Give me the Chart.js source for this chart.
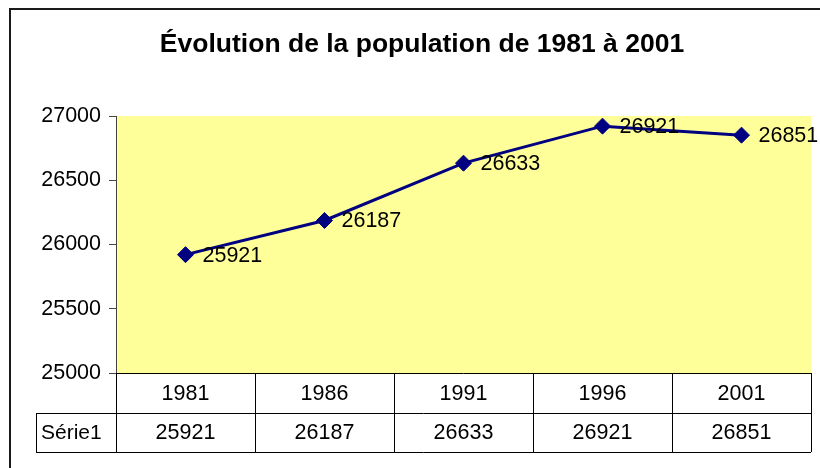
<!DOCTYPE html>
<html><head><meta charset="utf-8">
<script src="https://cdn.jsdelivr.net/npm/chart.js@4/dist/chart.umd.min.js"></script>
<style>html,body{margin:0;padding:0;background:#fff;} #wrap{width:820px;height:468px;position:relative;}</style>
</head><body><div id="wrap"><canvas id="c" width="820" height="468"></canvas></div>
<script>
const categories = ['1981', '1986', '1991', '1996', '2001'];
const seriesName = 'Série1';
const population = [25921, 26187, 26633, 26921, 26851];
const yMin = 25000, yMax = 27000, yStep = 500;
const titleText = 'Évolution de la population de 1981 à 2001';

const FONT = "'Liberation Sans', Arial, sans-serif";
const LABEL_SIZE = 21.5;

const framePlugin = {
  id: 'frame',
  beforeDraw(chart) {
    const { ctx, chartArea: a } = chart;
    ctx.save();
    ctx.fillStyle = '#FFFF99';
    ctx.fillRect(a.left, a.top, a.right - a.left, a.bottom - a.top);
    ctx.restore();
  },
  afterDraw(chart) {
    const { ctx, chartArea: a } = chart;
    ctx.save();
    // outer frame
    ctx.strokeStyle = '#1a1a1a';
    ctx.lineWidth = 2;
    ctx.strokeRect(10, 9, 900, 600);
    // data table
    const xs = chart.scales.x;
    const n = categories.length;
    const colW = (a.right - a.left) / n;
    const r0 = a.bottom, r1 = a.bottom + 40, r2 = a.bottom + 79;
    const leftCell = 36;
    ctx.strokeStyle = '#000';
    ctx.lineWidth = 1;
    ctx.beginPath();
    ctx.moveTo(a.left, r0 + 0.5); ctx.lineTo(a.right, r0 + 0.5);
    ctx.moveTo(leftCell, r1 + 0.5); ctx.lineTo(a.right, r1 + 0.5);
    ctx.moveTo(leftCell, r2 + 0.5); ctx.lineTo(a.right, r2 + 0.5);
    ctx.moveTo(leftCell + 0.5, r1); ctx.lineTo(leftCell + 0.5, r2);
    for (let i = 0; i <= n; i++) {
      const x = Math.round(a.left + i * colW) + 0.5;
      ctx.moveTo(x, r0); ctx.lineTo(x, r2);
    }
    ctx.stroke();
    ctx.fillStyle = '#000';
    ctx.font = LABEL_SIZE + 'px ' + FONT;
    ctx.textBaseline = 'middle';
    ctx.textAlign = 'center';
    categories.forEach((c, i) => {
      const x = xs.getPixelForValue(i);
      ctx.fillText(c, x, (r0 + r1) / 2 + 1);
      ctx.fillText(String(population[i]), x, (r1 + r2) / 2 + 1);
    });
    ctx.textAlign = 'left';
    ctx.font = '21px ' + FONT;
    ctx.fillText(seriesName, leftCell + 5, (r1 + r2) / 2 + 1);
    ctx.restore();
  },
  afterDatasetsDraw(chart) {
    const { ctx } = chart;
    const meta = chart.getDatasetMeta(0);
    ctx.save();
    ctx.fillStyle = '#000';
    ctx.font = LABEL_SIZE + 'px ' + FONT;
    ctx.textBaseline = 'middle';
    ctx.textAlign = 'left';
    meta.data.forEach((pt, i) => {
      ctx.fillText(String(population[i]), pt.x + 17, pt.y + 1);
    });
    ctx.restore();
  }
};

new Chart(document.getElementById('c'), {
  type: 'line',
  data: {
    labels: categories,
    datasets: [{
      label: seriesName,
      data: population,
      borderColor: '#000080',
      backgroundColor: '#000080',
      borderWidth: 3,
      pointStyle: 'rectRot',
      pointRadius: 8,
      pointBorderWidth: 1,
      pointBackgroundColor: '#000080',
      pointBorderColor: '#000080',
      tension: 0,
      clip: false
    }]
  },
  options: {
    responsive: false,
    animation: false,
    events: [],
    layout: { padding: { left: 30, right: 6, top: 0, bottom: 16 } },
    plugins: {
      legend: { display: false },
      tooltip: { enabled: false },
      title: {
        display: true,
        text: titleText,
        color: '#000',
        font: { family: FONT, size: 26.5, weight: 'bold', lineHeight: 1.2 },
        padding: { top: 29, bottom: 55.2 }
      }
    },
    scales: {
      x: {
        type: 'category',
        offset: true,
        grid: { display: false },
        border: { display: false },
        ticks: { display: false },
        afterFit(scale) { scale.height = 79; }
      },
      y: {
        min: yMin,
        max: yMax,
        ticks: {
          stepSize: yStep,
          color: '#000',
          font: { family: FONT, size: LABEL_SIZE },
          padding: 8,
          callback: v => String(v)
        },
        grid: { drawOnChartArea: false, drawTicks: true, tickLength: 7, color: '#444' },
        border: { display: true, color: '#444', width: 1 },
        afterFit(scale) { scale.width = 86; }
      }
    }
  },
  plugins: [framePlugin]
});
</script>
</body></html>
